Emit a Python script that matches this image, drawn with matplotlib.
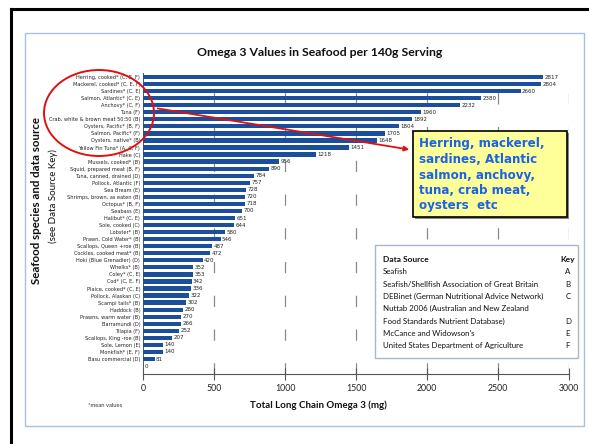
import matplotlib
matplotlib.use("Agg")
import matplotlib.pyplot as plt
from matplotlib.patches import Rectangle, Ellipse, FancyArrowPatch
from matplotlib.lines import Line2D

species = [
    "Herring, cooked* (C, E, F)", "Mackerel, cooked* (C, E, F)", "Sardines* (C, E)",
    "Salmon, Atlantic* (C, E)", "Anchovy* (C, F)", "Tuna (F)",
    "Crab, white & brown meat 50:50 (B)", "Oysters, Pacific* (B, F)", "Salmon, Pacific* (F)",
    "Oysters, native* (B)", "Yellow Fin Tuna* (A, C, F)", "Hake (C)",
    "Mussels, cooked* (B)", "Squid, prepared meat (B, F)", "Tuna, canned, drained (D)",
    "Pollock, Atlantic (F)", "Sea Bream (E)", "Shrimps, brown, as eaten (B)",
    "Octopus* (B, F)", "Seabass (E)", "Halibut* (C, E)", "Sole, cooked (C)",
    "Lobster* (B)", "Prawn, Cold Water* (B)", "Scallops, Queen +roe (B)",
    "Cockles, cooked meat* (B)", "Hoki (Blue Grenadier) (D)", "Whelks* (B)",
    "Coley* (C, E)", "Cod* (C, E, F)", "Plaice, cooked* (C, E)", "Pollock, Alaskan (C)",
    "Scampi tails* (B)", "Haddock (B)", "Prawns, warm water (B)", "Barramundi (D)",
    "Tilapia (F)", "Scallops, King -roe (B)", "Sole, Lemon (E)", "Monkfish* (E, F)",
    "Basu commercial (D)", "",
]
omega3 = [
    2817, 2804, 2660, 2380, 2232, 1960, 1892, 1804, 1705, 1648, 1451, 1218,
    956, 890, 784, 757, 728, 720, 718, 700, 651, 644, 580, 546, 487, 472, 420,
    352, 353, 342, 336, 322, 302, 280, 270, 266, 252, 207, 140, 140, 81, 0,
]
x_ticks = [0, 500, 1000, 1500, 2000, 2500, 3000]

source_names = [
    "Seafish", "Seafish/Shellfish Association of Great Britain",
    "DEBinet (German Nutritional Advice Network)", "Nuttab 2006 (Australian and New Zealand",
    "Food Standards Nutrient Database)", "McCance and Widowson's",
    "United States Department of Agriculture",
]
source_keys = ["A", "B", "C", "", "D", "E", "F"]
callout_lines = ["Herring, mackerel,", "sardines, Atlantic", "salmon, anchovy,",
                 "tuna, crab meat,", "oysters  etc"]

W, H = 589, 444
fig = plt.figure(figsize=(W / 100, H / 100), dpi=100)
fig.patch.set_facecolor("white")

def fx(x):
    return x / W

def fy(y):
    return 1 - y / H

# frames
fig.add_artist(Line2D([fx(11), fx(11)], [fy(9), 0], color="black", lw=2.2, transform=fig.transFigure))
fig.add_artist(Line2D([fx(11), 1], [fy(9), fy(9)], color="black", lw=2.2, transform=fig.transFigure))
fig.add_artist(Rectangle((fx(25), fy(426)), fx(584) - fx(25), fy(33) - fy(426),
                         fill=False, edgecolor="#a9c1e0", lw=1.0, transform=fig.transFigure))

n = len(species)
row0, step = 77.0, 7.05
ax_top_px = row0 - 0.6 * step
ax_bot_px = 374.0
ax = fig.add_axes([fx(143), fy(ax_bot_px), fx(569) - fx(143), fy(ax_top_px) - fy(ax_bot_px)])
ypos = list(range(n))
ax.barh(ypos, omega3, height=0.6, color="#1c4e9e", zorder=3)
ax.set_ylim((ax_bot_px - row0) / step, -0.6)
ax.set_xlim(0, 3000)
for y, v in zip(ypos, omega3):
    ax.text(v + 10, y, str(v), fontsize=4.0, family="Liberation Sans Narrow",
            va="center", ha="left", color="#222222", zorder=4)
ax.set_yticks(ypos)
ax.set_yticklabels(species, fontsize=3.6, family="Liberation Sans Narrow", color="#222222")
ax.tick_params(axis="y", length=0, pad=2)
ax.set_xticks(x_ticks)
ax.set_xticklabels([str(t) for t in x_ticks], fontsize=6.3, family="Lato", color="#222222")
ax.tick_params(axis="x", direction="inout", length=9, width=0.8, color="#555555", pad=3)
for t in x_ticks[1:]:
    ax.axvline(t, color="#8a8a8a", lw=0.9, ls=(0, (9, 18)), zorder=1)
for s in ["top", "right"]:
    ax.spines[s].set_visible(False)
ax.spines["left"].set_color("#555555")
ax.spines["left"].set_linewidth(0.7)
ax.spines["bottom"].set_color("#555555")
ax.spines["bottom"].set_linewidth(0.8)

# titles
fig.text(fx(320), fy(53), "Omega 3 Values in Seafood per 140g Serving", ha="center", va="center",
         fontsize=8.8, fontweight="bold", family="Lato", color="#111111")
fig.text(fx(318), fy(405), "Total Long Chain Omega 3 (mg)", ha="center", va="center",
         fontsize=7, fontweight="bold", family="Lato", color="#111111")
fig.text(fx(105), fy(405), "*mean values", ha="center", va="center",
         fontsize=4.2, family="Lato", color="#333333")
fig.text(fx(37), fy(200), "Seafood species and data source", ha="center", va="center",
         rotation=90, fontsize=8.3, fontweight="bold", family="Lato", color="#111111")
fig.text(fx(53), fy(196), "(see Data Source Key)", ha="center", va="center",
         rotation=90, fontsize=7, family="Lato", color="#111111")

# red ellipse and arrow
fig.add_artist(Ellipse((fx(99), fy(113)), fx(110), 86 / H, fill=False, edgecolor="#e01010",
                       lw=1.4, transform=fig.transFigure))
fig.add_artist(FancyArrowPatch((fx(155), fy(108)), (fx(412), fy(150)), arrowstyle="-|>",
                               mutation_scale=7, color="#e01010", lw=1.3,
                               transform=fig.transFigure))

# yellow callout
fig.add_artist(Rectangle((fx(415), fy(219)), fx(154), 86 / H, facecolor="#888888",
                         edgecolor="none", transform=fig.transFigure))
fig.add_artist(Rectangle((fx(413), fy(217)), fx(154), 86 / H, facecolor="#ffff99",
                         edgecolor="black", lw=1.2, transform=fig.transFigure))
for i, line in enumerate(callout_lines):
    fig.text(fx(419), fy(144 + 15.5 * i), line, ha="left", va="center", fontsize=8.6,
             fontweight="bold", family="DejaVu Sans", color="#1a63e6")

# data source box
fig.add_artist(Rectangle((fx(375), fy(358)), fx(578 - 375), (358 - 245) / H, facecolor="white",
                         edgecolor="#a6b8cc", lw=1.0, transform=fig.transFigure, zorder=5))
fig.text(fx(383), fy(259), "Data Source", ha="left", va="center", fontsize=6,
         fontweight="bold", family="Lato", color="#111111", zorder=6)
fig.text(fx(575), fy(259), "Key", ha="right", va="center", fontsize=6,
         fontweight="bold", family="Lato", color="#111111", zorder=6)
for i, (nm, k) in enumerate(zip(source_names, source_keys)):
    yy = 272 + 12.3 * i
    fig.text(fx(383), fy(yy), nm, ha="left", va="center", fontsize=5.7, family="Lato",
             color="#111111", zorder=6)
    if k:
        fig.text(fx(568), fy(yy), k, ha="center", va="center", fontsize=5.7, family="Lato",
                 color="#111111", zorder=6)

fig.savefig("out.png", dpi=100)
